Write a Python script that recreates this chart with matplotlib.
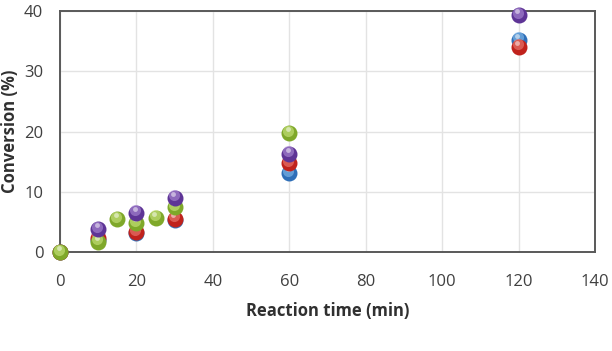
import matplotlib
matplotlib.use("Agg")
import matplotlib.pyplot as plt
import numpy as np

# Data
time_main = [0, 10, 20, 30, 60, 120]
blue_vals = [0, 2.0, 3.2, 5.3, 13.1, 35.2]
red_vals = [0, 2.4, 3.3, 5.5, 14.7, 34.1]
time_purple = [10, 20, 30, 60, 120]
purple_vals = [3.8, 6.5, 9.0, 16.3, 39.3]
time_green = [0, 10, 15, 20, 25, 30, 60]
green_vals = [0, 1.7, 5.4, 4.8, 5.7, 7.4, 19.7]

x_ticks = [0, 20, 40, 60, 80, 100, 120, 140]
y_ticks = [0, 10, 20, 30, 40]

series = [
    (time_main, blue_vals, "#2f6fb8", "#8fc3f0"),
    (time_main, red_vals, "#c0221c", "#f08a80"),
    (time_green, green_vals, "#7fa82a", "#d4ec8a"),
    (time_purple, purple_vals, "#5e3496", "#b596dc"),
]

plt.rcParams['font.family'] = ['Open Sans', 'DejaVu Sans']

fig = plt.figure(figsize=(6.12, 3.51), dpi=100)
ax = fig.add_axes([60/612, 1-252/351, (595-60)/612, (252-11)/351])

ax.set_xlim(0, 140)
ax.set_ylim(0, 40)
ax.set_xticks(x_ticks)
ax.set_yticks(y_ticks)
ax.grid(True, color="#e3e3e3", linewidth=1.0)
ax.set_axisbelow(True)
for s in ax.spines.values():
    s.set_color("#595959")
    s.set_linewidth(1.4)
ax.tick_params(length=0, labelsize=12, colors="#404040")
ax.tick_params(axis="x", pad=16)
ax.tick_params(axis="y", pad=12)

for xs, ys, dark, light in series:
    ax.plot(xs, ys, linestyle="none", marker="o", markersize=11.5,
            markerfacecolor=dark, markeredgecolor="none", clip_on=False, zorder=3)
    ax.plot(xs, ys, linestyle="none", marker="o", markersize=8,
            markerfacecolor=light, markeredgecolor="none", alpha=0.55,
            clip_on=False, zorder=3,
            transform=ax.transData + matplotlib.transforms.ScaledTranslation(-1/100, 2.5/100, fig.dpi_scale_trans))
    ax.plot(xs, ys, linestyle="none", marker="o", markersize=3.5,
            markerfacecolor="white", markeredgecolor="none", alpha=0.5,
            clip_on=False, zorder=3,
            transform=ax.transData + matplotlib.transforms.ScaledTranslation(-1.5/100, 4/100, fig.dpi_scale_trans))

ax.set_xlabel("Reaction time (min)", fontsize=12, fontweight="bold", color="#303030", labelpad=8.5)
ax.set_ylabel("Conversion (%)", fontsize=12, fontweight="bold", color="#303030", labelpad=4)

fig.savefig("out.png", dpi=100, facecolor="white")
